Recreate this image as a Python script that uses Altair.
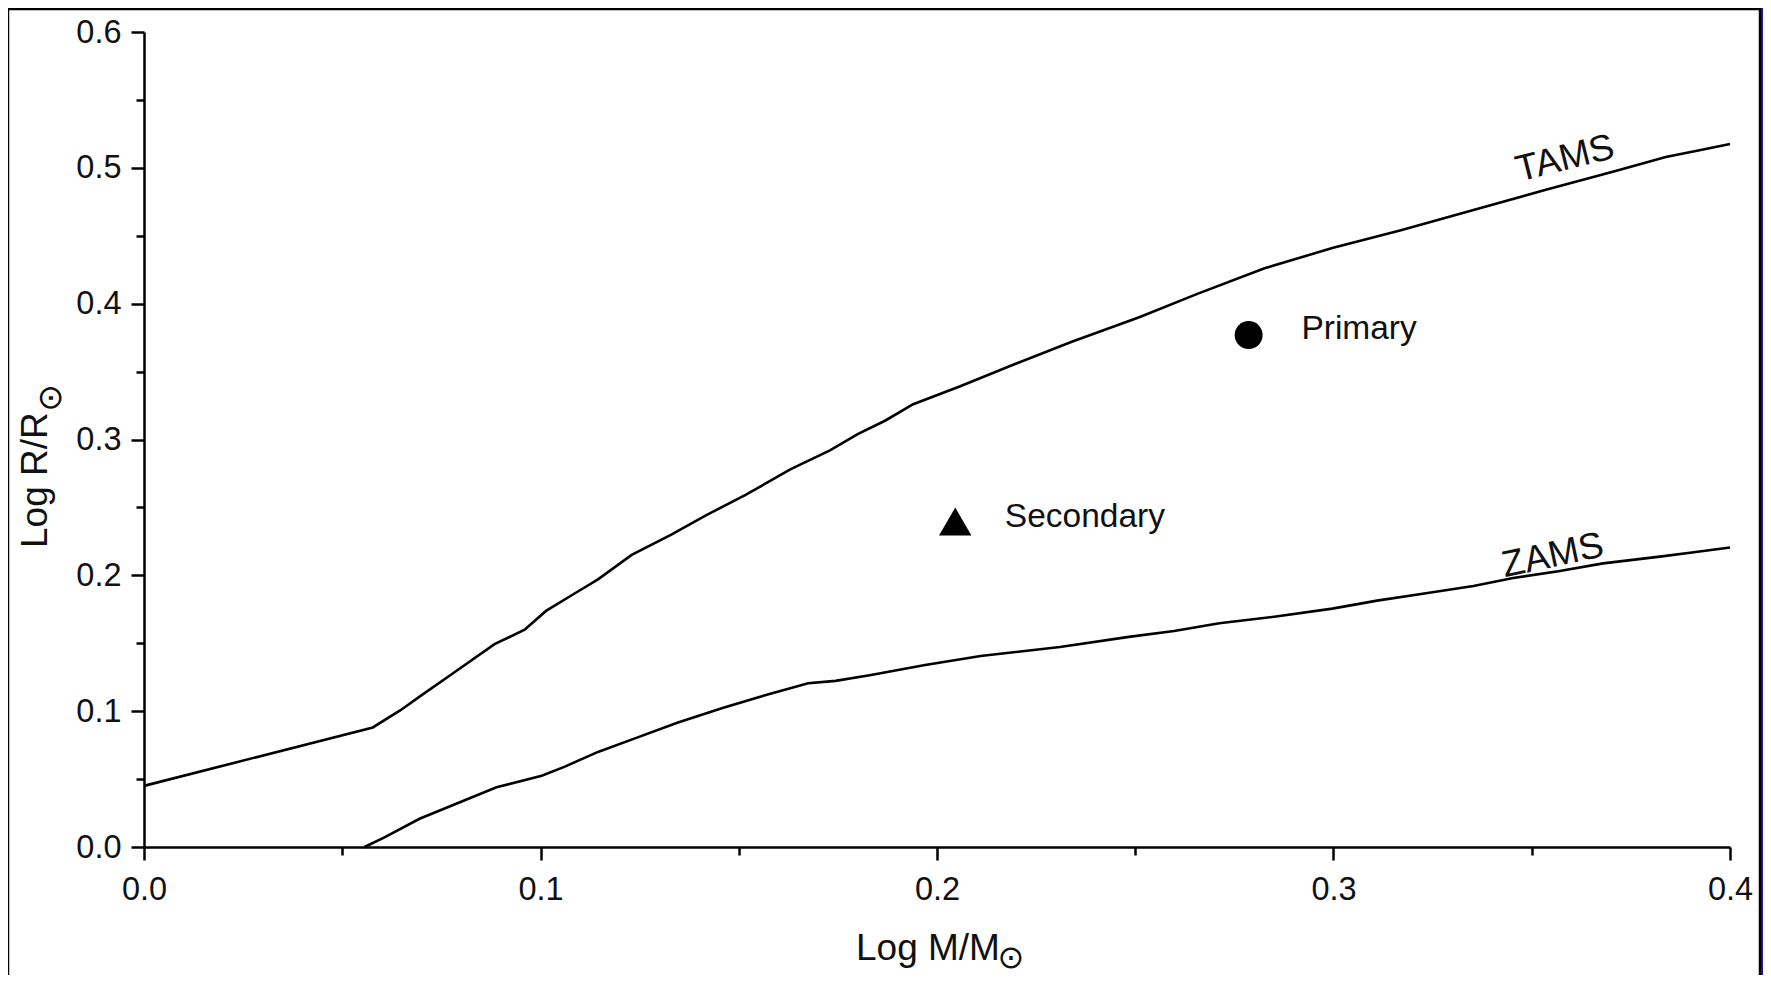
import altair as alt
import pandas as pd

# ---- data ----
tams_x = [0.0, 0.0577, 0.0647, 0.0703, 0.0775, 0.0884, 0.096, 0.1014, 0.1088, 0.1145,
          0.123, 0.133, 0.1416, 0.1516, 0.163, 0.173, 0.180, 0.187, 0.194, 0.2057,
          0.220, 0.234, 0.251, 0.2655, 0.2826, 0.2997, 0.317, 0.3353, 0.3538, 0.3709,
          0.3838, 0.3923, 0.400]
tams_y = [0.045, 0.088, 0.1007, 0.1124, 0.127, 0.1493, 0.160, 0.1738, 0.187, 0.197,
          0.215, 0.230, 0.244, 0.259, 0.278, 0.292, 0.304, 0.314, 0.326, 0.339,
          0.356, 0.372, 0.390, 0.407, 0.426, 0.441, 0.454, 0.469, 0.484, 0.4975,
          0.508, 0.513, 0.5175]

zams_x = [0.0556, 0.0604, 0.0695, 0.0889, 0.1003, 0.106, 0.1145, 0.1245, 0.1345, 0.1459,
          0.1573, 0.1675, 0.1744, 0.183, 0.197, 0.211, 0.231, 0.2484, 0.2598, 0.2712,
          0.2855, 0.2997, 0.311, 0.3225, 0.3353, 0.3453, 0.3567, 0.368, 0.3823, 0.3909,
          0.400]
zams_y = [0.0, 0.0067, 0.0208, 0.044, 0.0524, 0.059, 0.070, 0.0807, 0.0915, 0.1023,
          0.1123, 0.1206, 0.1223, 0.1265, 0.134, 0.1406, 0.1473, 0.1547, 0.159, 0.1647,
          0.1697, 0.1755, 0.1814, 0.1864, 0.1922, 0.198, 0.203, 0.2088, 0.2138, 0.217,
          0.2205]

star_names = ["Primary", "Secondary"]
star_x = [0.2786, 0.2046]
star_y = [0.3769, 0.2396]
star_label_x = [0.2919, 0.2171]
star_label_y = [0.381, 0.2429]

curve_names = ["TAMS", "ZAMS"]
curve_label_x = [0.3584, 0.3553]
curve_label_y = [0.5066, 0.2143]
curve_label_angle = [346, 348]

x_ticks = [0.0, 0.05, 0.1, 0.15, 0.2, 0.25, 0.3, 0.35, 0.4]
y_ticks = [0.0, 0.05, 0.1, 0.15, 0.2, 0.25, 0.3, 0.35, 0.4, 0.45, 0.5, 0.55, 0.6]

x_title = "Log M/M"
y_title = "Log R/R"
sun_symbol = "\u2299"

# ---- layout ----
FONT = "Liberation Sans"
W, H = 1586, 815
PAD = {"left": 136, "top": 24, "right": 33, "bottom": 128}

lines_df = pd.concat([
    pd.DataFrame({"x": tams_x, "y": tams_y, "curve": "TAMS"}),
    pd.DataFrame({"x": zams_x, "y": zams_y, "curve": "ZAMS"}),
])
stars_df = pd.DataFrame({"name": star_names, "x": star_x, "y": star_y,
                         "lx": star_label_x, "ly": star_label_y})
curve_lab_df = pd.DataFrame({"name": curve_names, "x": curve_label_x,
                             "y": curve_label_y, "angle": curve_label_angle})
one = pd.DataFrame({"a": [0]})

x_scale = alt.Scale(domain=[0, 0.4], nice=False, zero=False)
y_scale = alt.Scale(domain=[0, 0.6], nice=False, zero=False)

major = "abs(datum.value * 10 - round(datum.value * 10)) < 0.001"
tick_size = {"condition": {"test": major, "value": 13}, "value": 8}

common_axis = dict(
    grid=False, domainColor="black", domainWidth=2.5, tickColor="black", tickWidth=2.5,
    tickSize=tick_size, labelFont=FONT, labelFontSize=32.5, labelColor="#111111",
    labelExpr=f"{major} ? format(datum.value, '.1f') : ''", title=None, zindex=1,
    labelOverlap=False,
)
x_axis = alt.Axis(values=x_ticks, labelPadding=13, labelFlush=False, **common_axis)
y_axis = alt.Axis(values=y_ticks, labelPadding=10, labelFlush=False, **common_axis)

panel = alt.Chart(one).mark_rect(fill="white", stroke="black", strokeWidth=2.5).encode(
    x=alt.value(-136), x2=alt.value(1616), y=alt.value(-23), y2=alt.value(990)
)

lines = alt.Chart(lines_df).mark_line(color="black", strokeWidth=2.6).encode(
    x=alt.X("x:Q", scale=x_scale, axis=x_axis),
    y=alt.Y("y:Q", scale=y_scale, axis=y_axis),
    detail="curve:N",
)

primary = alt.Chart(stars_df[stars_df.name == "Primary"]).mark_point(
    shape="circle", filled=True, color="black", size=784, opacity=1
).encode(x=alt.X("x:Q", scale=x_scale), y=alt.Y("y:Q", scale=y_scale))

secondary = alt.Chart(stars_df[stars_df.name == "Secondary"]).mark_point(
    shape="triangle-up", filled=True, color="black", size=1050, opacity=1
).encode(x=alt.X("x:Q", scale=x_scale), y=alt.Y("y:Q", scale=y_scale))

star_labels = alt.Chart(stars_df).mark_text(
    align="left", baseline="middle", font=FONT, fontSize=33.5, color="#111111"
).encode(x=alt.X("lx:Q", scale=x_scale), y=alt.Y("ly:Q", scale=y_scale), text="name:N")

curve_labels = alt.Chart(curve_lab_df).mark_text(
    align="center", baseline="middle", font=FONT, fontSize=37, color="#111111"
).encode(
    x=alt.X("x:Q", scale=x_scale), y=alt.Y("y:Q", scale=y_scale), text="name:N",
    angle=alt.Angle("angle:Q", scale=None),
)

xt = alt.Chart(one).mark_text(
    align="left", baseline="alphabetic", font=FONT, fontSize=37, color="#111111", text=x_title
).encode(x=alt.value(712), y=alt.value(928))
xt_sun = alt.Chart(one).mark_text(
    align="center", baseline="middle", font="DejaVu Sans", fontSize=32, color="#111111",
    text=sun_symbol
).encode(x=alt.value(867), y=alt.value(926))

yt = alt.Chart(one).mark_text(
    align="left", baseline="alphabetic", font=FONT, fontSize=37, color="#111111",
    text=y_title, angle=270
).encode(x=alt.value(-97), y=alt.value(516))
yt_sun = alt.Chart(one).mark_text(
    align="center", baseline="middle", font="DejaVu Sans", fontSize=33, color="#111111",
    text=sun_symbol, angle=270
).encode(x=alt.value(-93), y=alt.value(366))

chart = alt.layer(
    panel, lines, primary, secondary, star_labels, curve_labels, xt, xt_sun, yt, yt_sun
).properties(
    width=W, height=H, padding=PAD, autosize=alt.AutoSizeParams(type="none")
).configure(background="#1d1b9a").configure_view(stroke=None)

chart.save("out.html", embed_options={"renderer": "svg", "actions": False})
